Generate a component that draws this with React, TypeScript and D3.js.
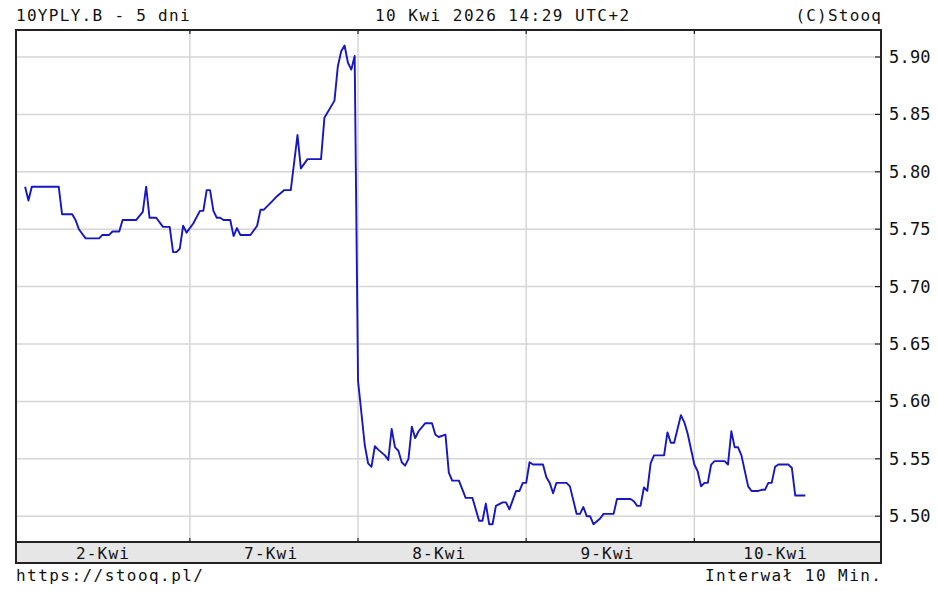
import React from "react";
import * as d3 from "d3";

const TITLE_LEFT = "10YPLY.B - 5 dni";
const TITLE_CENTER = "10 Kwi 2026 14:29 UTC+2";
const TITLE_RIGHT = "(C)Stooq";
const FOOTER_LEFT = "https://stooq.pl/";
const FOOTER_RIGHT = "Interwał 10 Min.";

const DAY_LABELS = ["2-Kwi", "7-Kwi", "8-Kwi", "9-Kwi", "10-Kwi"];
const POINTS_PER_DAY = 50;
const Y_TICKS = [5.5, 5.55, 5.6, 5.65, 5.7, 5.75, 5.8, 5.85, 5.9];

// 10-minute step index (50 steps per session) and the yield read at that step
const STEP_INDEX = [
  1, 2, 3, 11, 12, 15, 16, 17, 19, 23, 24, 26, 27, 29, 30, 34, 36, 37, 38, 40, 42, 44, 45, 46, 47, 48, 49,
  51, 53, 54, 55, 56, 57, 58, 59, 60, 62, 63, 64, 65, 68, 70, 71, 72, 74, 76, 78, 80, 82, 83, 85, 89, 90, 93, 94, 95, 96, 97, 98, 99,
  100, 102, 103, 104, 105, 106, 108, 109, 110, 111, 112, 113, 114, 115, 116, 117, 118, 120, 122, 123, 124, 126, 127, 128, 130, 132, 134, 136, 137, 138, 139, 140, 141, 143, 144, 145, 147, 148, 149,
  150, 151, 152, 155, 156, 157, 158, 159, 162, 163, 165, 166, 167, 168, 169, 170, 172, 173, 176, 177, 181, 182, 183, 184, 185, 186, 187, 188, 191, 192, 193, 194, 196, 197, 198,
  200, 201, 202, 203, 204, 205, 206, 209, 210, 211, 212, 213, 214, 216, 217, 219, 220, 221, 222, 223, 224, 225, 228, 229, 230, 233,
];
const YIELD_VALUES = [
  5.787, 5.775, 5.787, 5.787, 5.763, 5.763, 5.758, 5.75, 5.742, 5.742, 5.745, 5.745, 5.748, 5.748, 5.758, 5.758, 5.765, 5.787, 5.76, 5.76, 5.752, 5.752, 5.73, 5.73, 5.733, 5.753, 5.747,
  5.755, 5.766, 5.766, 5.784, 5.784, 5.766, 5.76, 5.76, 5.758, 5.758, 5.744, 5.751, 5.745, 5.745, 5.753, 5.767, 5.767, 5.773, 5.779, 5.784, 5.784, 5.832, 5.803, 5.811, 5.811, 5.847, 5.862, 5.892, 5.905, 5.91, 5.895, 5.889, 5.901,
  5.618, 5.562, 5.546, 5.543, 5.561, 5.558, 5.553, 5.549, 5.576, 5.56, 5.557, 5.547, 5.544, 5.55, 5.578, 5.568, 5.574, 5.581, 5.581, 5.571, 5.569, 5.571, 5.538, 5.531, 5.531, 5.516, 5.516, 5.496, 5.496, 5.511, 5.493, 5.493, 5.509, 5.512, 5.512, 5.506, 5.522, 5.522, 5.529,
  5.529, 5.547, 5.545, 5.545, 5.534, 5.529, 5.52, 5.529, 5.529, 5.526, 5.502, 5.502, 5.508, 5.5, 5.5, 5.493, 5.498, 5.502, 5.502, 5.515, 5.515, 5.513, 5.509, 5.509, 5.525, 5.522, 5.546, 5.553, 5.553, 5.573, 5.564, 5.564, 5.588, 5.582, 5.572,
  5.545, 5.539, 5.526, 5.529, 5.529, 5.545, 5.548, 5.548, 5.545, 5.574, 5.56, 5.56, 5.553, 5.526, 5.522, 5.522, 5.523, 5.523, 5.529, 5.529, 5.543, 5.545, 5.545, 5.542, 5.518, 5.518,
];

const W = 937;
const H = 591;
const LEFT = 16;
const RIGHT = 881;
const TOP = 30;
const PLOT_BOTTOM = 542;
const STRIP_BOTTOM = 563;
const FONT = "'DejaVu Sans Mono', monospace";
const CHAR_W = 10.85;

export default function App() {
  const x = d3.scaleLinear().domain([-1.7, 255.5]).range([LEFT, RIGHT]);
  const y = d3.scaleLinear().domain([5.5, 5.9]).range([516.2, 57]);

  const data = STEP_INDEX.map((s, i) => [s, YIELD_VALUES[i]] as [number, number]);
  const line = d3
    .line<[number, number]>()
    .x((d) => x(d[0]))
    .y((d) => y(d[1]));

  const dayBounds = DAY_LABELS.slice(1).map((_, i) => (i + 1) * POINTS_PER_DAY);

  return (
    <svg
      width={W}
      height={H}
      style={{ position: "fixed", left: 0, top: 0, background: "#fff" }}
      fontFamily={FONT}
    >
      <rect x={0} y={0} width={W} height={H} fill="#fff" />
      <defs>
        <clipPath id="plotClip">
          <rect x={LEFT} y={TOP} width={RIGHT - LEFT} height={PLOT_BOTTOM - TOP} />
        </clipPath>
      </defs>

      {/* horizontal grid */}
      {Y_TICKS.map((t) => (
        <line key={"h" + t} x1={LEFT} x2={RIGHT} y1={y(t)} y2={y(t)} stroke="#d6d6d6" strokeWidth={1.5} />
      ))}
      {/* vertical grid */}
      {dayBounds.map((b) => (
        <line key={"v" + b} x1={x(b)} x2={x(b)} y1={TOP} y2={PLOT_BOTTOM} stroke="#d6d6d6" strokeWidth={1.5} />
      ))}

      {/* series */}
      <path
        d={line(data) || ""}
        fill="none"
        stroke="#1616c4"
        strokeWidth={1.9}
        strokeLinejoin="round"
        clipPath="url(#plotClip)"
      />

      {/* bottom strip */}
      <rect x={LEFT} y={PLOT_BOTTOM} width={RIGHT - LEFT} height={STRIP_BOTTOM - PLOT_BOTTOM} fill="#e6e6e6" />
      <line x1={LEFT} x2={RIGHT} y1={PLOT_BOTTOM} y2={PLOT_BOTTOM} stroke="#222" strokeWidth={2} />
      <line x1={LEFT} x2={RIGHT} y1={STRIP_BOTTOM} y2={STRIP_BOTTOM} stroke="#222" strokeWidth={2} />

      {/* frame */}
      <line x1={LEFT} x2={RIGHT} y1={TOP} y2={TOP} stroke="#222" strokeWidth={2} />
      <line x1={LEFT} x2={LEFT} y1={TOP - 1} y2={STRIP_BOTTOM + 1} stroke="#222" strokeWidth={2} />
      <line x1={RIGHT} x2={RIGHT} y1={TOP - 1} y2={STRIP_BOTTOM + 1} stroke="#222" strokeWidth={2} />

      {/* day ticks */}
      {dayBounds.map((b) => (
        <g key={"t" + b}>
          <line x1={x(b)} x2={x(b)} y1={TOP} y2={TOP + 4} stroke="#222" strokeWidth={1.2} />
          <line x1={x(b)} x2={x(b)} y1={PLOT_BOTTOM - 4} y2={PLOT_BOTTOM} stroke="#222" strokeWidth={1.2} />
        </g>
      ))}

      {/* y ticks and labels */}
      {Y_TICKS.map((t) => (
        <g key={"y" + t}>
          <line x1={RIGHT - 6} x2={RIGHT} y1={y(t)} y2={y(t)} stroke="#222" strokeWidth={1.2} />
          <text x={889} y={y(t) + 6} fontSize={17} fill="#111" textLength={4 * 10.4} lengthAdjust="spacing">
            {d3.format(".2f")(t)}
          </text>
        </g>
      ))}

      {/* day labels */}
      {DAY_LABELS.map((lab, i) => (
        <text
          key={lab}
          x={x(i * POINTS_PER_DAY + 24)}
          y={559}
          fontSize={16}
          textAnchor="middle"
          fill="#111"
          textLength={lab.length * 10.6}
          lengthAdjust="spacing"
        >
          {lab}
        </text>
      ))}

      {/* header */}
      <text x={16} y={21} fontSize={16} fill="#111" textLength={TITLE_LEFT.length * CHAR_W} lengthAdjust="spacing">
        {TITLE_LEFT}
      </text>
      <text x={375} y={21} fontSize={16} fill="#111" textLength={TITLE_CENTER.length * 11.05} lengthAdjust="spacing">
        {TITLE_CENTER}
      </text>
      <text x={RIGHT} y={21} fontSize={16} fill="#111" textAnchor="end" textLength={TITLE_RIGHT.length * 10.7} lengthAdjust="spacing">
        {TITLE_RIGHT}
      </text>

      {/* footer */}
      <text x={16} y={581} fontSize={16} fill="#111" textLength={FOOTER_LEFT.length * 11} lengthAdjust="spacing">
        {FOOTER_LEFT}
      </text>
      <text x={RIGHT} y={581} fontSize={16} fill="#111" textAnchor="end" textLength={FOOTER_RIGHT.length * 11} lengthAdjust="spacing">
        {FOOTER_RIGHT}
      </text>
    </svg>
  );
}
